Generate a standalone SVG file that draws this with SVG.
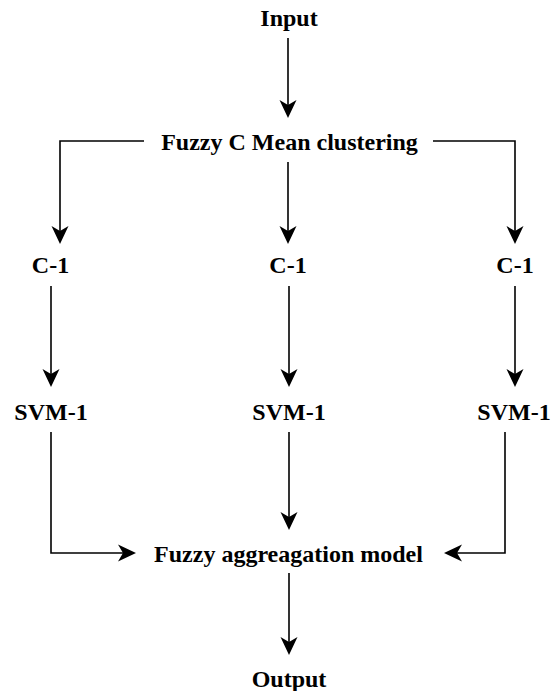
<svg xmlns="http://www.w3.org/2000/svg" width="552" height="691" viewBox="0 0 552 691">
  <style>
    .lbl { font-family: "Liberation Serif", "Times New Roman", serif; font-weight: bold; font-size: 24px; fill: #000; text-anchor: middle; }
    .edge { fill: none; stroke: #000; stroke-width: 1.6; marker-end: url(#head); }
  </style>
  <defs>
    <marker id="head" viewBox="0 0 18 18" refX="13" refY="9" markerWidth="18" markerHeight="18" markerUnits="userSpaceOnUse" orient="auto">
      <path d="M0,0.5 L18,9 L0,17.5 L5,9 Z" fill="#000"/>
    </marker>
  </defs>
  <rect width="552" height="691" fill="#fff"/>

  <!-- connectors (each ends at the notch of its arrowhead) -->
  <g id="connectors">
    <path class="edge" d="M288,38 V113"/>
    <path class="edge" d="M144,141 H60 V239"/>
    <path class="edge" d="M288,162 V239"/>
    <path class="edge" d="M433,141 H515 V239"/>
    <path class="edge" d="M51,286 V382"/>
    <path class="edge" d="M289,286 V382"/>
    <path class="edge" d="M515,286 V382"/>
    <path class="edge" d="M51,432 V553 H131"/>
    <path class="edge" d="M289,432 V525"/>
    <path class="edge" d="M505,432 V553 H449"/>
    <path class="edge" d="M289,573 V650"/>
  </g>

  <g id="input"><text class="lbl" x="289" y="26">Input</text></g>
  <g id="fcm"><text class="lbl" x="289.5" y="150">Fuzzy C Mean clustering</text></g>
  <g id="c1-left"><text class="lbl" x="50.5" y="273">C-1</text></g>
  <g id="c1-mid"><text class="lbl" x="288" y="273">C-1</text></g>
  <g id="c1-right"><text class="lbl" x="515" y="273">C-1</text></g>
  <g id="svm-left"><text class="lbl" x="51" y="420">SVM-1</text></g>
  <g id="svm-mid"><text class="lbl" x="289" y="420">SVM-1</text></g>
  <g id="svm-right"><text class="lbl" x="514" y="420">SVM-1</text></g>
  <g id="aggregation"><text class="lbl" x="288.5" y="562">Fuzzy aggreagation model</text></g>
  <g id="output"><text class="lbl" x="289" y="687">Output</text></g>
</svg>
